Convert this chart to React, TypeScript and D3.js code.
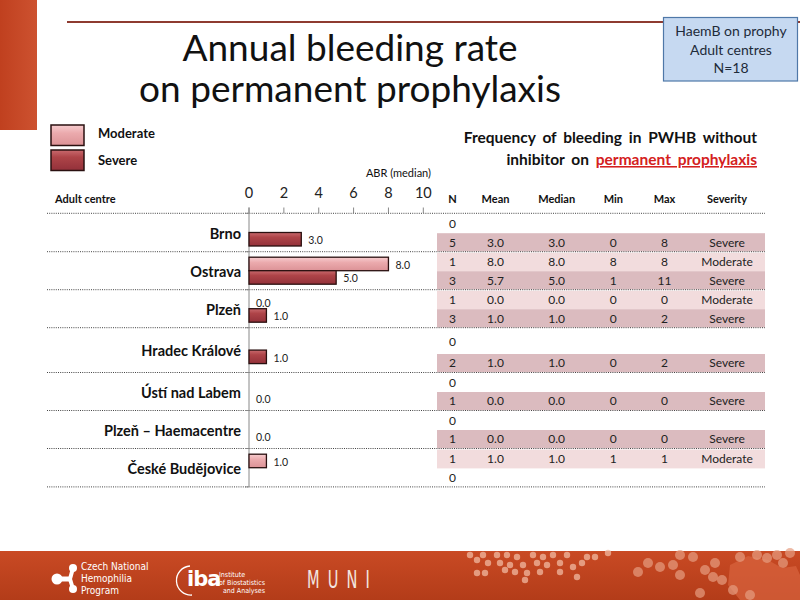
import React from "react";
import * as d3 from "d3";

// ---------- data ----------
const centres = [
  "Brno",
  "Ostrava",
  "Plzeň",
  "Hradec Králové",
  "Ústí nad Labem",
  "Plzeň – Haemacentre",
  "České Budějovice",
];
const seriesNames = ["Moderate", "Severe"];
const moderateMedian: (number | null)[] = [null, 8.0, 0.0, null, null, null, 1.0];
const severeMedian: (number | null)[] = [3.0, 5.0, 1.0, 1.0, 0.0, 0.0, null];
const xTicks = [0, 2, 4, 6, 8, 10];

const tableHeaders = ["N", "Mean", "Median", "Min", "Max", "Severity"];
const moderateN = [0, 1, 1, 0, 0, 0, 1];
const moderateMean: (number | null)[] = [null, 8.0, 0.0, null, null, null, 1.0];
const moderateMin: (number | null)[] = [null, 8, 0, null, null, null, 1];
const moderateMax: (number | null)[] = [null, 8, 0, null, null, null, 1];
const severeN = [5, 3, 3, 2, 1, 1, 0];
const severeMean: (number | null)[] = [3.0, 5.7, 1.0, 1.0, 0.0, 0.0, null];
const severeMin: (number | null)[] = [0, 1, 0, 0, 0, 0, null];
const severeMax: (number | null)[] = [8, 11, 2, 2, 0, 0, null];

const titleLines = ["Annual bleeding rate", "on permanent prophylaxis"];
const boxLines = ["HaemB on prophy", "Adult centres", "N=18"];

// ---------- layout ----------
const FONT = "Lato, 'Open Sans', sans-serif";
const BAND_H = [38.4, 38, 38, 44.8, 38, 38, 38.4];
const TOP = 213.3;
const ROW_H = 18.5;
const COL_X = [452.5, 495.5, 556.7, 613.3, 664.5, 727];

export default function App() {
  const x = d3.scaleLinear().domain([0, 10]).range([249, 423.3]);
  const cum = d3.cumsum(BAND_H);
  const bandTop = (i: number) => TOP + (i === 0 ? 0 : cum[i - 1]);
  const bandBottom = (i: number) => TOP + cum[i];
  const bandCenter = (i: number) => (bandTop(i) + bandBottom(i)) / 2;
  const sub = d3.scaleBand<string>().domain(seriesNames).range([-13.5, 13.5]);
  const edges = [TOP, ...Array.from(cum, (c) => TOP + c)];
  const fmt1 = d3.format(".1f");

  const series = [
    { name: "Moderate", values: moderateMedian, fill: "url(#gMod)" },
    { name: "Severe", values: severeMedian, fill: "url(#gSev)" },
  ];

  const tableRows: any[] = [];
  centres.forEach((c, i) => {
    const modTop = bandTop(i) + 1;
    const sevTop = bandBottom(i) - ROW_H;
    tableRows.push({
      y0: modTop,
      y1: sevTop,
      n: moderateN[i],
      cells:
        moderateN[i] > 0
          ? [
              String(moderateN[i]),
              fmt1(moderateMean[i] as number),
              fmt1(moderateMedian[i] as number),
              String(moderateMin[i]),
              String(moderateMax[i]),
              "Moderate",
            ]
          : ["0"],
      fill: "#F2DCDD",
    });
    tableRows.push({
      y0: sevTop,
      y1: bandBottom(i) - 0.3,
      n: severeN[i],
      cells:
        severeN[i] > 0
          ? [
              String(severeN[i]),
              fmt1(severeMean[i] as number),
              fmt1(severeMedian[i] as number),
              String(severeMin[i]),
              String(severeMax[i]),
              "Severe",
            ]
          : ["0"],
      fill: "#DBBBBF",
    });
  });

  // footer decoration
  const dotsSmall: [number, number][] = [
    [470, 555], [477, 560], [483, 555], [488, 563], [497, 555], [500, 563], [507, 555],
    [510, 565], [517, 557], [523, 565], [527, 573], [525, 580], [533, 555], [537, 563],
    [543, 557], [547, 565], [553, 555], [560, 563], [567, 555], [573, 567], [577, 577],
    [582, 563], [587, 557], [595, 557], [608, 553], [477, 573], [485, 573], [505, 570],
    [515, 572], [540, 572], [560, 572],
  ];
  const dotsBig: [number, number][] = [
    [638, 572], [648, 563], [660, 567], [673, 565], [680, 575], [680, 555], [693, 557],
    [705, 570], [715, 563], [713, 577], [722, 580], [740, 557], [757, 555], [767, 558],
    [783, 563], [777, 555], [790, 553], [733, 590], [750, 595], [700, 593],
  ];

  return (
    <div style={{ position: "absolute", left: 0, top: 0 }}>
      <svg width={800} height={600} style={{ display: "block", fontFamily: FONT }}>
        <defs>
          <linearGradient id="gSev" x1="0" y1="0" x2="0" y2="1">
            <stop offset="0" stopColor="#C96A6E" />
            <stop offset="0.35" stopColor="#AE4448" />
            <stop offset="1" stopColor="#93313A" />
          </linearGradient>
          <linearGradient id="gMod" x1="0" y1="0" x2="0" y2="1">
            <stop offset="0" stopColor="#F7CDCF" />
            <stop offset="0.4" stopColor="#EBAAAD" />
            <stop offset="1" stopColor="#DC9296" />
          </linearGradient>
          <linearGradient id="gFoot" x1="0" y1="0" x2="0" y2="1">
            <stop offset="0" stopColor="#C94A24" />
            <stop offset="1" stopColor="#B33C19" />
          </linearGradient>
          <linearGradient id="gSide" x1="0" y1="0" x2="1" y2="0">
            <stop offset="0" stopColor="#C0401F" />
            <stop offset="1" stopColor="#CD5230" />
          </linearGradient>
        </defs>
        <rect x={0} y={0} width={800} height={600} fill="#fff" />

        {/* side block and top rule */}
        <rect x={0} y={0} width={37} height={130} fill="url(#gSide)" />
        <line x1={67} x2={800} y1={22} y2={22} stroke="#8E3B30" strokeWidth={2} />

        {/* title */}
        {titleLines.map((t, i) => (
          <text key={t} x={350} y={61 + i * 41} textAnchor="middle" fontSize={37} fill="#111">
            {t}
          </text>
        ))}

        {/* info box */}
        <rect x={663.5} y={17.5} width={134} height={63.5} fill="#C6D9F1" stroke="#4F78A8" strokeWidth={1.2} />
        {boxLines.map((t, i) => (
          <text key={t} x={731} y={36 + i * 18.5} textAnchor="middle" fontSize={14} fill="#1E2B3A">
            {t}
          </text>
        ))}

        {/* legend */}
        {seriesNames.map((s, i) => (
          <g key={s}>
            <rect
              x={51}
              y={125 + i * 25}
              width={33}
              height={20.5}
              fill={i === 0 ? "url(#gMod)" : "url(#gSev)"}
              stroke="#2A1010"
              strokeWidth={1.5}
            />
            <text x={98} y={138 + i * 26.5} fontSize={13} fontWeight={700} fill="#111">
              {s}
            </text>
          </g>
        ))}

        {/* table title */}
        <text x={757} y={143} textAnchor="end" fontSize={15.5} fontWeight={700} fill="#111" wordSpacing={3}>
          Frequency of bleeding in PWHB without
        </text>
        <text x={757} y={165} textAnchor="end" fontSize={15.5} fontWeight={700} fill="#111" wordSpacing={3}>
          inhibitor on{" "}
          <tspan fill="#D42020" textDecoration="underline">
            permanent prophylaxis
          </tspan>
        </text>

        {/* axis header */}
        <text x={431} y={177} textAnchor="end" fontSize={11} fill="#111">
          ABR (median)
        </text>
        {xTicks.map((t) => (
          <g key={t}>
            <text x={x(t)} y={198} textAnchor="middle" fontSize={14.5} fill="#222">
              {t}
            </text>
            <line x1={x(t)} x2={x(t)} y1={207.5} y2={213} stroke="#888" />
          </g>
        ))}
        <text x={55} y={203} fontSize={11} fontWeight={700} fill="#111">
          Adult centre
        </text>
        {tableHeaders.map((h, j) => (
          <text key={h} x={COL_X[j]} y={203} textAnchor="middle" fontSize={11} fontWeight={700} fill="#111">
            {h}
          </text>
        ))}

        {/* table rows */}
        {tableRows.map((r, k) => (
          <g key={k}>
            {r.n > 0 && <rect x={437} y={r.y0} width={328} height={r.y1 - r.y0} fill={r.fill} />}
            {r.cells.map((c: string, j: number) => (
              <text
                key={j}
                x={COL_X[j]}
                y={(r.y0 + r.y1) / 2}
                dy="0.36em"
                textAnchor="middle"
                fontSize={12}
                fill="#222"
              >
                {c}
              </text>
            ))}
          </g>
        ))}

        {/* dotted separators */}
        {edges.map((e, k) => (
          <line key={k} x1={47} x2={765} y1={e} y2={e} stroke="#444" strokeWidth={1} strokeDasharray="1 1.2" />
        ))}

        {/* axis */}
        <line x1={x(0)} x2={x(0)} y1={207.5} y2={edges[edges.length - 1]} stroke="#888" />
        {edges.map((e, k) => (
          <line key={k} x1={x(0) - 4} x2={x(0)} y1={e} y2={e} stroke="#888" />
        ))}

        {/* category labels */}
        {centres.map((c, i) => (
          <text key={c} x={241} y={bandCenter(i) + 1} dy="0.35em" textAnchor="end" fontSize={14.5} fontWeight={700} fill="#111">
            {c}
          </text>
        ))}

        {/* bars */}
        {series.map((s) =>
          s.values.map((v, i) => {
            if (v === null) return null;
            const y0 = bandCenter(i) + (sub(s.name) as number);
            const h = sub.bandwidth();
            return (
              <g key={s.name + i}>
                {v > 0 && (
                  <rect
                    x={x(0)}
                    y={y0}
                    width={x(v) - x(0)}
                    height={h}
                    fill={s.fill}
                    stroke="#2A1010"
                    strokeWidth={1.3}
                  />
                )}
                <text x={x(v) + 7} y={y0 + h / 2 + 1} dy="0.35em" fontSize={10.5} fill="#222">
                  {fmt1(v)}
                </text>
              </g>
            );
          })
        )}

        {/* footer */}
        <rect x={0} y={551} width={800} height={49} fill="url(#gFoot)" />
        <path d="M730 565 L748 556 L768 560 L782 568 L796 566 L800 575 L800 600 L740 600 L728 585 Z" fill="#D8643E" opacity={0.7} />
        {dotsSmall.map(([cx, cy], k) => (
          <circle key={"s" + k} cx={cx} cy={cy} r={3.2} fill="#F0B8A0" opacity={0.75} />
        ))}
        {dotsBig.map(([cx, cy], k) => (
          <circle key={"b" + k} cx={cx} cy={cy} r={5} fill="#E59C80" opacity={0.7} />
        ))}
        {/* CNHP logo */}
        <g fill="#fff" stroke="#fff">
          <line x1={57} y1={579} x2={70} y2={579} strokeWidth={5} />
          <line x1={70} y1={579} x2={73} y2={568} strokeWidth={4} />
          <line x1={70} y1={579} x2={73} y2={589} strokeWidth={4} />
          <circle cx={57} cy={579} r={5.5} stroke="none" />
          <circle cx={73} cy={568} r={4} stroke="none" />
          <circle cx={73} cy={589} r={4} stroke="none" />
        </g>
        <g fontFamily="'DejaVu Sans Condensed', sans-serif" fontSize={10} fill="#fff">
          <text x={81} y={570}>Czech National</text>
          <text x={81} y={582}>Hemophilia</text>
          <text x={81} y={594}>Program</text>
        </g>
        {/* iba logo */}
        <path d="M190 566 A14 14 0 0 0 192 595" fill="none" stroke="#fff" strokeWidth={1.3} />
        <text x={187} y={586} fontSize={21} fontWeight={900} fill="#fff" fontFamily="'DejaVu Sans', sans-serif" letterSpacing={-1}>
          iba
        </text>
        <g fontFamily="'DejaVu Sans Condensed', sans-serif" fontSize={7} fill="#fff">
          <text x={219} y={577}>Institute</text>
          <text x={219} y={585}>of Biostatistics</text>
          <text x={223} y={592.5}>and Analyses</text>
        </g>
        {/* MUNI */}
        <text
          x={0}
          y={0}
          fontSize={18}
          fill="#F2E6E0"
          fontFamily="'DejaVu Sans Condensed', sans-serif"
          letterSpacing={9}
          transform="translate(307,588) scale(0.9,1.35)"
        >
          MUNI
        </text>
      </svg>
    </div>
  );
}
